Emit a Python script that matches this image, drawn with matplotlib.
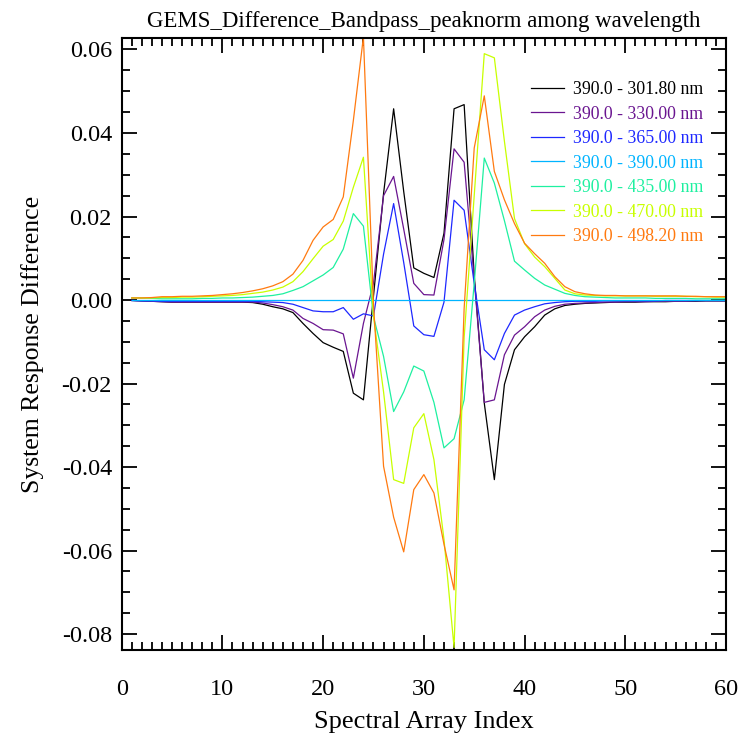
import numpy as np
import matplotlib
matplotlib.use("Agg")
import matplotlib.pyplot as plt
from matplotlib.ticker import MultipleLocator, FormatStrFormatter

plt.rcParams['font.family'] = ['Liberation Serif', 'DejaVu Serif']
plt.rcParams['axes.unicode_minus'] = False

index = np.arange(1, 61)

labels = ["390.0 - 301.80 nm", "390.0 - 330.00 nm", "390.0 - 365.00 nm",
          "390.0 - 390.00 nm", "390.0 - 435.00 nm", "390.0 - 470.00 nm",
          "390.0 - 498.20 nm"]
colors = ["#000000", "#6a1590", "#1e28ff", "#00b4ff", "#1ef0a0", "#c8ff00", "#ff7a10"]

diff_301 = [-0.0001, -0.0002, -0.0003, -0.0004, -0.0005, -0.0005, -0.0005, -0.0005, -0.0005, -0.0005,
            -0.0005, -0.0005, -0.0006, -0.0010, -0.0016, -0.0021, -0.0030, -0.0056, -0.0080, -0.0102,
            -0.0113, -0.0123, -0.0223, -0.0239, 0.0010, 0.0255, 0.0458, 0.0260, 0.0077, 0.0064,
            0.0054, 0.0160, 0.0458, 0.0468, 0.0060, -0.0247, -0.0430, -0.0202, -0.0119, -0.0088,
            -0.0064, -0.0036, -0.0021, -0.0013, -0.0010, -0.0008, -0.0007, -0.0006, -0.0005, -0.0005,
            -0.0005, -0.0004, -0.0004, -0.0004, -0.0003, -0.0003, -0.0003, -0.0002, -0.0002, -0.0002]
diff_330 = [-0.0001, -0.0002, -0.0003, -0.0004, -0.0005, -0.0005, -0.0005, -0.0005, -0.0005, -0.0005,
            -0.0005, -0.0005, -0.0005, -0.0007, -0.0011, -0.0016, -0.0024, -0.0044, -0.0056, -0.0071,
            -0.0072, -0.0081, -0.0187, -0.0056, 0.0040, 0.0250, 0.0296, 0.0170, 0.0040, 0.0013,
            0.0012, 0.0145, 0.0362, 0.0330, 0.0050, -0.0245, -0.0239, -0.0131, -0.0084, -0.0064,
            -0.0040, -0.0024, -0.0015, -0.0010, -0.0008, -0.0007, -0.0006, -0.0005, -0.0005, -0.0004,
            -0.0004, -0.0004, -0.0003, -0.0003, -0.0003, -0.0003, -0.0002, -0.0002, -0.0002, -0.0002]
diff_365 = [-0.0001, -0.0002, -0.0002, -0.0003, -0.0003, -0.0003, -0.0003, -0.0003, -0.0003, -0.0003,
            -0.0003, -0.0003, -0.0003, -0.0004, -0.0005, -0.0006, -0.0010, -0.0018, -0.0026, -0.0028,
            -0.0028, -0.0018, -0.0046, -0.0033, -0.0038, 0.0110, 0.0231, 0.0090, -0.0062, -0.0083,
            -0.0087, -0.0005, 0.0239, 0.0215, 0.0040, -0.0119, -0.0143, -0.0080, -0.0036, -0.0024,
            -0.0016, -0.0009, -0.0006, -0.0004, -0.0003, -0.0003, -0.0003, -0.0002, -0.0002, -0.0002,
            -0.0002, -0.0002, -0.0002, -0.0001, -0.0001, -0.0001, -0.0001, -0.0001, -0.0001, -0.0001]
diff_390 = [0.0] * 60
diff_435 = [0.0005, 0.0005, 0.0004, 0.0003, 0.0003, 0.0003, 0.0003, 0.0004, 0.0004, 0.0005,
            0.0005, 0.0006, 0.0007, 0.0009, 0.0011, 0.0015, 0.0023, 0.0032, 0.0046, 0.0060,
            0.0078, 0.0122, 0.0207, 0.0177, -0.0040, -0.0135, -0.0267, -0.0220, -0.0158, -0.0170,
            -0.0245, -0.0354, -0.0332, -0.0239, 0.0040, 0.0340, 0.0280, 0.0190, 0.0093, 0.0072,
            0.0052, 0.0036, 0.0026, 0.0016, 0.0011, 0.0008, 0.0007, 0.0006, 0.0005, 0.0005,
            0.0005, 0.0005, 0.0004, 0.0004, 0.0004, 0.0004, 0.0003, 0.0003, 0.0003, 0.0003]
diff_470 = [0.0005, 0.0005, 0.0005, 0.0006, 0.0006, 0.0007, 0.0007, 0.0008, 0.0009, 0.0010,
            0.0011, 0.0013, 0.0016, 0.0019, 0.0024, 0.0031, 0.0044, 0.0068, 0.0099, 0.0129,
            0.0145, 0.0189, 0.0270, 0.0342, -0.0040, -0.0220, -0.0430, -0.0439, -0.0306, -0.0272,
            -0.0382, -0.0573, -0.0832, -0.0090, 0.0250, 0.0590, 0.0580, 0.0380, 0.0195, 0.0135,
            0.0103, 0.0080, 0.0052, 0.0024, 0.0015, 0.0012, 0.0011, 0.0010, 0.0010, 0.0010,
            0.0010, 0.0010, 0.0009, 0.0009, 0.0009, 0.0009, 0.0008, 0.0008, 0.0007, 0.0007]
diff_498 = [0.0005, 0.0005, 0.0006, 0.0008, 0.0008, 0.0009, 0.0009, 0.0010, 0.0011, 0.0013,
            0.0015, 0.0018, 0.0022, 0.0027, 0.0034, 0.0044, 0.0062, 0.0095, 0.0143, 0.0175,
            0.0193, 0.0247, 0.0430, 0.0630, -0.0010, -0.0398, -0.0520, -0.0603, -0.0454, -0.0418,
            -0.0462, -0.0585, -0.0694, -0.0020, 0.0364, 0.0489, 0.0308, 0.0240, 0.0183, 0.0136,
            0.0111, 0.0088, 0.0056, 0.0032, 0.0020, 0.0015, 0.0012, 0.0011, 0.0011, 0.0010,
            0.0010, 0.0010, 0.0010, 0.0010, 0.0010, 0.0009, 0.0009, 0.0008, 0.0008, 0.0008]

series = [diff_301, diff_330, diff_365, diff_390, diff_435, diff_470, diff_498]

fig = plt.figure(figsize=(7.39, 7.36), dpi=100)
left_px, right_px, top_px, bot_px = 121.7, 726.0, 38.0, 650.0
ax = fig.add_axes([left_px / 739, 1 - bot_px / 736, (right_px - left_px) / 739, (bot_px - top_px) / 736])

for vals, lab, col in zip(series, labels, colors):
    ax.plot(index, vals, color=col, lw=0.9, label=lab)

ax.set_xlim(0, 60)
ax.set_ylim(-0.0838, 0.06275)
ax.xaxis.set_major_locator(MultipleLocator(10))
ax.xaxis.set_minor_locator(MultipleLocator(1))
ax.yaxis.set_major_locator(MultipleLocator(0.02))
ax.yaxis.set_minor_locator(MultipleLocator(0.005))
ax.yaxis.set_major_formatter(FormatStrFormatter('%.2f'))
ax.tick_params(which='both', direction='in', top=True, right=True, width=1.3)
ax.tick_params(which='major', length=11, labelsize=17.5)
ax.tick_params(which='minor', length=5.5)
ax.tick_params(axis='x', which='major', pad=21)
ax.tick_params(axis='y', which='major', pad=7)
for s in ax.spines.values():
    s.set_linewidth(1.5)

ax.set_xlabel("Spectral Array Index", fontsize=19, labelpad=8)
ax.set_ylabel("System Response Difference", fontsize=18.5, labelpad=13)
ax.set_title("GEMS_Difference_Bandpass_peaknorm among wavelength", fontsize=16.5, pad=8)

leg = ax.legend(loc='upper right', bbox_to_anchor=(0.975, 0.941), frameon=False,
                fontsize=12.8, labelcolor='linecolor', handlelength=1.85,
                handletextpad=0.55, labelspacing=0.42, borderaxespad=0.0)

fig.savefig("out.png", dpi=100)
